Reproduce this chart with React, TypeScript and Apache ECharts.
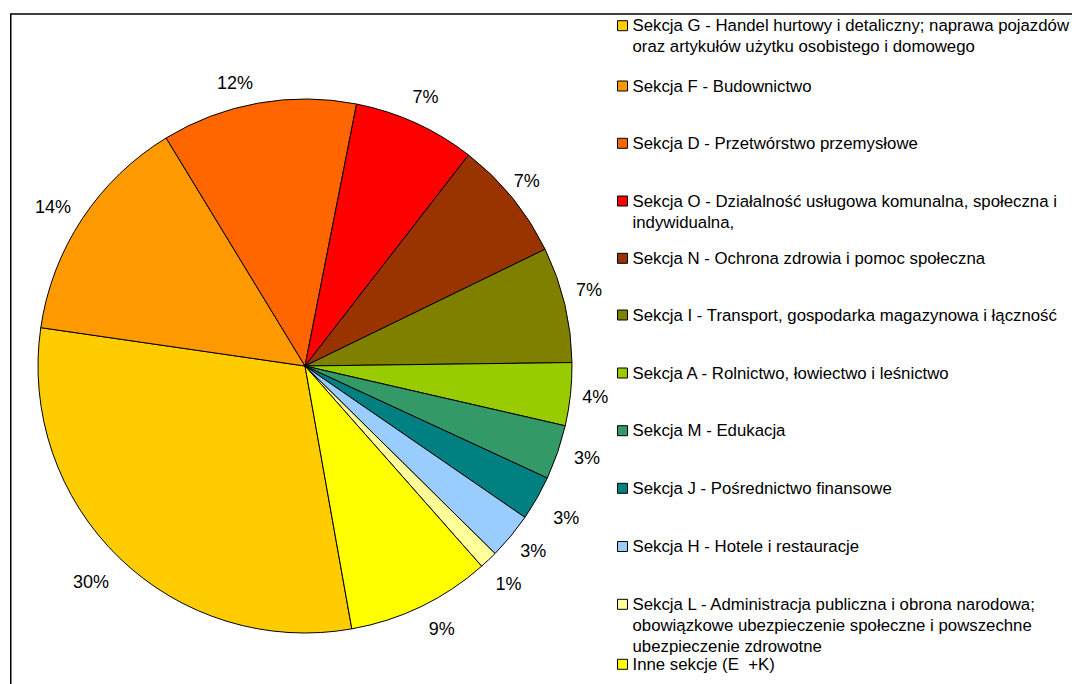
import React, { useEffect, useRef } from "react";
import * as echarts from "echarts";

const categories: string[] = [
  "Sekcja G - Handel hurtowy i detaliczny; naprawa pojazdów\noraz artykułów użytku osobistego i domowego",
  "Sekcja F - Budownictwo",
  "Sekcja D - Przetwórstwo przemysłowe",
  "Sekcja O - Działalność usługowa komunalna, społeczna i\nindywidualna,",
  "Sekcja N - Ochrona zdrowia i pomoc społeczna",
  "Sekcja I - Transport, gospodarka magazynowa i łączność",
  "Sekcja A - Rolnictwo, łowiectwo i leśnictwo",
  "Sekcja M - Edukacja",
  "Sekcja J - Pośrednictwo finansowe",
  "Sekcja H - Hotele i restauracje",
  "Sekcja L - Administracja publiczna i obrona narodowa;\nobowiązkowe ubezpieczenie społeczne i powszechne\nubezpieczenie zdrowotne",
  "Inne sekcje (E  +K)",
];

const shares: number[] = [30.1, 14.0, 11.8, 7.4, 7.3, 7.0, 3.8, 3.3, 2.7, 2.8, 1.1, 8.7];

const colors: string[] = [
  "#FFCC00", "#FF9900", "#FF6600", "#FF0000", "#993300", "#808000",
  "#99CC00", "#339966", "#008080", "#99CCFF", "#FFFF99", "#FFFF00",
];

// layout constants
const CX = 305;
const CY = 366;
const R = 267;
const LABEL_R = 296;
const START = 280.1;
const LABEL_NUDGE: [number, number][] = [
  [-8, 3], [-5, 4], [-18, 8], [-2, 0], [-8, 2], [-4, -8],
  [-4, 0], [2, -4], [4, 5], [0, -4], [0, 3], [8, -4],
];
const LEGEND_X = 617;
const LEGEND_Y = [25.7, 86, 143.3, 201, 258.3, 315, 373, 430.7, 488.3, 546.5, 604.3, 664.3];
const LH = 21;

export default function App() {
  const ref = useRef<HTMLDivElement>(null);
  useEffect(() => {
    if (!ref.current) return;
    const chart = echarts.init(ref.current, null, { renderer: "svg" });
    const total = shares.reduce((a, b) => a + b, 0);
    const cum: number[] = [];
    let acc = 0;
    shares.forEach((v) => {
      cum.push(acc);
      acc += v;
    });

    const legends = categories.map((name, i) => {
      const n = name.split("\n").length;
      const lead = "\n".repeat(n - 1);
      return {
        orient: "vertical",
        left: LEGEND_X,
        top: LEGEND_Y[i] - ((2 * n - 1) * LH) / 2,
        padding: 0,
        itemWidth: 10,
        itemHeight: 10,
        icon: "rect",
        selectedMode: false,
        itemStyle: { borderColor: "#000", borderWidth: 1 },
        textStyle: { fontSize: 16.8, fontFamily: "Arial, 'Liberation Sans'", color: "#000", lineHeight: LH },
        formatter: (nm: string) => lead + nm,
        data: [name],
      };
    });

    chart.setOption({
      animation: false,
      backgroundColor: "#fff",
      legend: legends,
      graphic: [
        {
          type: "rect",
          shape: { x: 10.75, y: 14, width: 1200, height: 800 },
          style: { fill: "none", stroke: "#000", lineWidth: 1.5 },
          silent: true,
        },
      ],
      series: [
        {
          type: "pie",
          center: [CX, CY],
          radius: R,
          startAngle: START,
          clockwise: true,
          avoidLabelOverlap: false,
          color: colors,
          itemStyle: { borderColor: "#000", borderWidth: 1 },
          emphasis: { disabled: true },
          label: {
            show: true,
            position: "outside",
            fontSize: 18,
            fontFamily: "Arial, 'Liberation Sans'",
            color: "#000",
            formatter: (p: any) => Math.round(p.percent) + "%",
          },
          labelLine: { show: false },
          labelLayout: (p: any) => {
            const i = p.dataIndex;
            const mid = START - (360 * (cum[i] + shares[i] / 2)) / total;
            const a = (mid * Math.PI) / 180;
            return {
              x: CX + LABEL_R * Math.cos(a) + LABEL_NUDGE[i][0],
              y: CY - LABEL_R * Math.sin(a) + LABEL_NUDGE[i][1],
              align: "center",
              verticalAlign: "middle",
            };
          },
          data: categories.map((name, i) => ({ name, value: shares[i] })),
        },
      ],
    });
    return () => chart.dispose();
  }, []);
  return (
    <div
      ref={ref}
      style={{ position: "fixed", left: 0, top: 0, width: 1072, height: 684 }}
    />
  );
}
